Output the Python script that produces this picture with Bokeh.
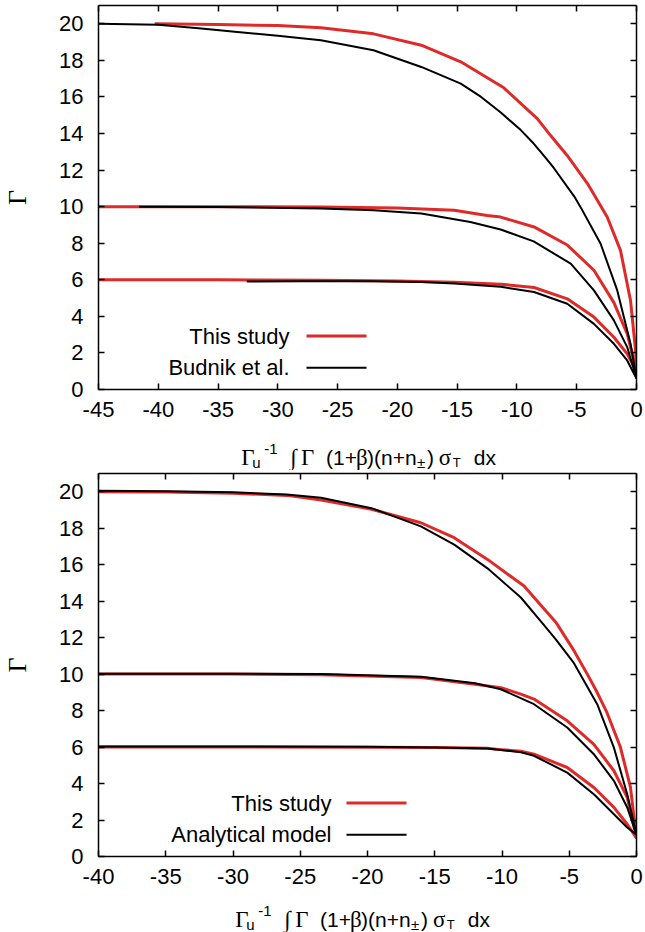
from bokeh.plotting import figure
from bokeh.models import FixedTicker, LinearAxis, Label, Arrow, Range1d, CustomJSTickFormatter
from bokeh.layouts import column
from bokeh.embed import file_html
from bokeh.resources import INLINE

RED = "#df2a2a"
BLACK = "#000000"
SANS = "Liberation Sans"
SERIF = "Liberation Serif"

# ---------------- data: top panel (This study vs Budnik et al.) ----------------
top_x_ticks = [-45, -40, -35, -30, -25, -20, -15, -10, -5, 0]
y_ticks = [0, 2, 4, 6, 8, 10, 12, 14, 16, 18, 20]

top_red20_x = [-40.3, -35, -30, -26.4, -22, -18.0, -14.7, -11.1, -8.3, -7.2, -5.8, -4.1, -2.45, -1.34, -0.5, -0.08, 0]
top_red20_y = [20.0, 19.96, 19.9, 19.78, 19.45, 18.83, 17.92, 16.5, 14.81, 13.9, 12.8, 11.26, 9.43, 7.61, 4.87, 2.14, 1.0]
top_blk20_x = [-45, -40, -36.4, -33.6, -30, -26.4, -22, -18, -14.7, -13.0, -11.35, -9.7, -8.6, -7.7, -6.9, -5.2, -4.7, -3.0, -1.61, -0.5, 0]
top_blk20_y = [20.0, 19.95, 19.74, 19.56, 19.35, 19.1, 18.55, 17.64, 16.73, 16.0, 15.15, 14.2, 13.45, 12.75, 12.1, 10.55, 10.0, 7.97, 5.42, 2.5, 0.6]

top_red10_x = [-45, -35, -26.4, -20, -15.25, -12.5, -11.36, -8.57, -5.79, -3.56, -1.89, -0.78, 0]
top_red10_y = [10.0, 10.0, 9.98, 9.92, 9.80, 9.52, 9.43, 8.89, 7.9, 6.52, 4.75, 3.05, 1.0]
top_blk10_x = [-41.6, -35, -26.4, -22, -18, -13.9, -11.36, -8.6, -5.5, -3.56, -1.89, -0.78, 0]
top_blk10_y = [10.0, 9.98, 9.9, 9.8, 9.62, 9.16, 8.75, 8.1, 6.88, 5.42, 3.78, 2.32, 0.6]

top_red6_x = [-45, -35, -26.4, -20, -15.25, -11.36, -8.57, -5.79, -3.56, -1.89, -0.78, 0]
top_red6_y = [6.0, 6.0, 5.97, 5.93, 5.87, 5.76, 5.58, 4.96, 3.96, 2.86, 1.95, 1.0]
top_blk6_x = [-32.6, -28, -22, -18, -15.25, -11.36, -8.57, -5.79, -3.56, -1.89, -0.78, 0]
top_blk6_y = [5.9, 5.92, 5.92, 5.88, 5.8, 5.62, 5.33, 4.69, 3.59, 2.5, 1.59, 0.6]

# ---------------- data: bottom panel (This study vs Analytical model) ----------------
bot_x_ticks = [-40, -35, -30, -25, -20, -15, -10, -5, 0]

bot_red20_x = [-40, -35, -30, -26, -23.45, -19.7, -16.03, -13.56, -11.08, -8.36, -7.37, -6.0, -4.66, -3.66, -3.0, -2.2, -1.2, -0.45, 0]
bot_red20_y = [20.0, 19.98, 19.92, 19.8, 19.55, 19.04, 18.3, 17.48, 16.29, 14.83, 14.0, 12.85, 11.3, 10.0, 9.1, 7.9, 6.0, 3.8, 1.0]
bot_blk20_x = [-40, -35, -30, -26, -23.45, -19.7, -16.03, -13.55, -11.08, -8.6, -7.0, -6.0, -4.65, -2.92, -1.68, -0.69, 0]
bot_blk20_y = [20.05, 20.03, 19.97, 19.85, 19.67, 19.1, 18.1, 17.1, 15.8, 14.2, 12.8, 11.9, 10.6, 8.35, 5.97, 3.41, 1.2]

bot_red10_x = [-40, -30, -23.45, -16, -12, -10.09, -8.6, -7.62, -5.15, -3.17, -1.68, -0.69, 0]
bot_red10_y = [10.0, 10.0, 9.96, 9.81, 9.45, 9.26, 8.9, 8.63, 7.44, 6.15, 4.7, 3.24, 1.0]
bot_blk10_x = [-40, -30, -23.45, -16, -12, -10.09, -7.62, -5.15, -3.17, -1.68, -0.69, 0]
bot_blk10_y = [10.02, 10.02, 10.0, 9.86, 9.5, 9.17, 8.35, 7.07, 5.61, 4.15, 2.69, 1.2]

bot_red6_x = [-40, -30, -20, -15, -11.1, -10.09, -8.6, -7.62, -5.15, -3.17, -1.68, -0.69, 0]
bot_red6_y = [6.0, 6.0, 5.99, 5.97, 5.93, 5.86, 5.77, 5.61, 4.88, 3.78, 2.69, 1.77, 1.0]
bot_blk6_x = [-40, -30, -20, -15, -11.1, -10.09, -8.6, -7.62, -5.15, -3.17, -1.68, -0.69, 0]
bot_blk6_y = [6.03, 6.03, 6.02, 5.98, 5.92, 5.84, 5.72, 5.52, 4.6, 3.41, 2.32, 1.59, 1.2]

top_legend = ["This study", "Budnik et al."]
bot_legend = ["This study", "Analytical model"]
y_label = "\u0393"

# x-axis label pieces: (text, font, size, dx, dy) -- "Γu^-1 ∫ Γ (1+β)(n+n±) σT dx"
xlabel_runs = [
    ("\u0393", SERIF, 23, 0, 0),
    ("u", SANS, 15, 11, -5),
    ("-1", SANS, 15, 23, 9),
    ("\u222b", SERIF, 23, 49, 0),
    ("\u0393", SERIF, 23, 60, 0),
    ("(1+", SANS, 21, 85, 0),
    ("\u03b2", SERIF, 23, 115, 0),
    (")(n+n", SANS, 21, 126, 0),
    ("\u00b1", SANS, 15, 176, -5),
    (")", SANS, 21, 186, 0),
    ("\u03c3", SERIF, 23, 198, 0),
    ("T", SANS, 13, 212, -5),
    ("dx", SANS, 21, 233, 0),
]

hyphen_fmt = "return tick.toString()"


def blank_axis(ticks):
    ax = LinearAxis(ticker=FixedTicker(ticks=ticks),
                    formatter=CustomJSTickFormatter(code="return ''"))
    ax.major_label_text_font_size = "0px"
    ax.major_label_standoff = 0
    ax.major_tick_in = 6
    ax.major_tick_out = 0
    ax.minor_tick_line_color = None
    ax.axis_line_width = 1.5
    ax.major_tick_line_width = 1.5
    return ax


def style_axis(ax, ticks):
    ax.ticker = FixedTicker(ticks=ticks)
    ax.formatter = CustomJSTickFormatter(code=hyphen_fmt)
    ax.major_tick_in = 6
    ax.major_tick_out = 0
    ax.minor_tick_line_color = None
    ax.axis_line_width = 1.5
    ax.major_tick_line_width = 1.5
    ax.major_label_text_font = SANS
    ax.major_label_text_font_size = "22px"
    ax.major_label_text_color = "black"


def make_panel(xmin, xticks, series, legend_labels, height, top_border, bottom_border,
               leg_text_x, leg_line_x0, leg_line_x1):
    p = figure(width=645, height=height, x_range=Range1d(xmin, 0), y_range=Range1d(0, 21),
               output_backend="svg", toolbar_location=None,
               min_border_left=97, min_border_right=9,
               min_border_top=top_border, min_border_bottom=bottom_border)
    p.grid.visible = False
    p.outline_line_color = None
    p.background_fill_color = "white"
    p.border_fill_color = "white"

    style_axis(p.xaxis[0], xticks)
    style_axis(p.yaxis[0], y_ticks)
    p.xaxis.major_label_standoff = 12
    p.yaxis.major_label_standoff = 15
    p.yaxis.axis_label = y_label
    p.yaxis.axis_label_text_font = SERIF
    p.yaxis.axis_label_text_font_style = "normal"
    p.yaxis.axis_label_text_font_size = "26px"
    p.yaxis.axis_label_text_color = "black"
    p.yaxis.axis_label_standoff = 24

    p.add_layout(blank_axis(xticks), "above")
    p.add_layout(blank_axis(y_ticks), "right")

    for xs, ys, color, lw in series:
        p.line(xs, ys, line_color=color, line_width=lw, line_join="round")

    # legend: text right-aligned, sample line on its right (gnuplot style)
    for i, (lab, color, lw) in enumerate(zip(legend_labels, [RED, BLACK], [3, 2])):
        yc = 53.5 - i * 31.8
        p.add_layout(Label(x=leg_text_x, y=yc, x_units="screen", y_units="screen",
                           text=lab, text_font=SANS, text_font_size="22px",
                           text_align="right", text_baseline="middle", text_color="black"))
        p.add_layout(Arrow(end=None, x_start=leg_line_x0, y_start=yc,
                           x_end=leg_line_x1, y_end=yc,
                           start_units="screen", end_units="screen",
                           line_color=color, line_width=lw))
    return p


def make_xlabel(height, x0, base):
    # strip whose frame spans canvas x 97..636, so data x equals canvas x
    q = figure(width=645, height=height, x_range=Range1d(97, 636), y_range=Range1d(0, height),
               output_backend="svg", toolbar_location=None,
               x_axis_location=None, y_axis_location=None,
               min_border_left=97, min_border_right=9, min_border_top=0, min_border_bottom=0)
    q.grid.visible = False
    q.outline_line_color = None
    q.border_fill_color = "white"
    q.background_fill_color = "white"
    for txt, font, size, dx, dy in xlabel_runs:
        q.add_layout(Label(x=x0 + dx, y=base + dy, text=txt, text_font=font,
                           text_font_size=f"{size}px", text_align="left",
                           text_baseline="alphabetic", text_color="black"))
    return q


top_series = [
    (top_red20_x, top_red20_y, RED, 3), (top_red10_x, top_red10_y, RED, 3), (top_red6_x, top_red6_y, RED, 3),
    (top_blk20_x, top_blk20_y, BLACK, 2), (top_blk10_x, top_blk10_y, BLACK, 2), (top_blk6_x, top_blk6_y, BLACK, 2),
]
bot_series = [
    (bot_red20_x, bot_red20_y, RED, 3), (bot_red10_x, bot_red10_y, RED, 3), (bot_red6_x, bot_red6_y, RED, 3),
    (bot_blk20_x, bot_blk20_y, BLACK, 2), (bot_blk10_x, bot_blk10_y, BLACK, 2), (bot_blk6_x, bot_blk6_y, BLACK, 2),
]

p1 = make_panel(-45, top_x_ticks, top_series, top_legend, 426, 5, 37, 191, 208, 268)
l1 = make_xlabel(44, 240, 13)
p2 = make_panel(-40, bot_x_ticks, bot_series, bot_legend, 423, 3, 37, 233, 248, 308)
l2 = make_xlabel(39, 234, 13)

layout = column(p1, l1, p2, l2, spacing=0)
open("out.html", "w").write(file_html(layout, INLINE))
